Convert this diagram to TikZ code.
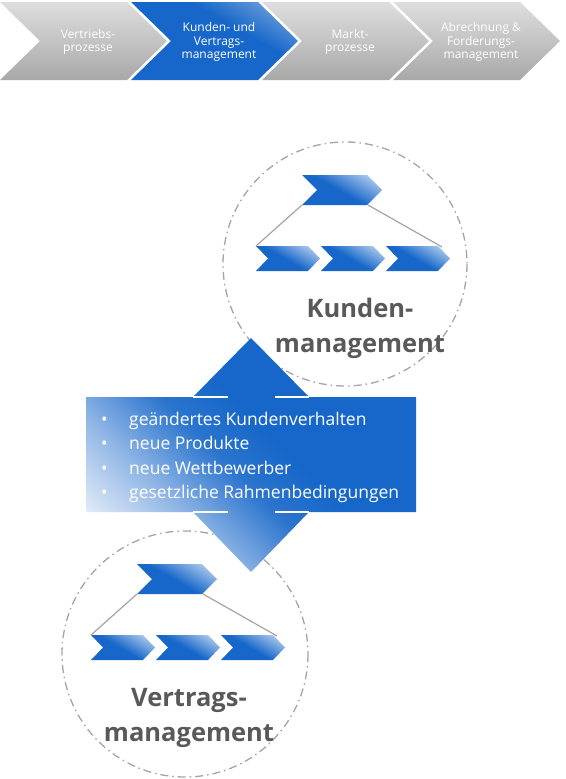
\documentclass[tikz,border=0pt]{standalone}
\usepackage{fontspec}
\setmainfont{Open Sans}
\usetikzlibrary{calc}

\definecolor{mainblue}{RGB}{22,103,201}
\definecolor{paleblue}{RGB}{226,235,248}
\definecolor{chevtop}{RGB}{222,222,222}
\definecolor{chevbottom}{RGB}{168,168,168}
\definecolor{ringgray}{RGB}{165,165,165}
\definecolor{titlegray}{RGB}{89,89,89}

\pgfdeclarehorizontalshading{arrowfade}{100bp}{color(0bp)=(paleblue); color(22bp)=(paleblue); color(34bp)=(mainblue!40!paleblue); color(46bp)=(mainblue!90!paleblue); color(55bp)=(mainblue); color(100bp)=(mainblue)}
\pgfdeclarehorizontalshading{iconfade}{100bp}{color(0bp)=(mainblue); color(48bp)=(mainblue); color(88bp)=(paleblue); color(100bp)=(paleblue)}
\pgfdeclarehorizontalshading{tabfade}{100bp}{color(0bp)=(mainblue); color(60bp)=(mainblue); color(90bp)=(paleblue!70!mainblue); color(100bp)=(paleblue!70!mainblue)}

\tikzset{
	tab/.style={top color=chevtop, bottom color=chevbottom},
	tabblue/.style={shading=tabfade, shading angle=60},
	tablabel/.style={text=white, align=center, inner sep=0pt, font=\fontsize{12}{13.5}\selectfont},
	ring/.style={draw=ringgray, line width=1.3pt, dash pattern=on 8pt off 4pt on 1.5pt off 4pt},
	iconchev/.style={shading=iconfade, shading angle=60},
	iconline/.style={draw=ringgray, line width=1.2pt},
	ringtitle/.style={text=titlegray, align=center, inner sep=0pt, font=\bfseries\fontsize{25.5}{35}\selectfont},
	bulletline/.style={text=white, anchor=base west, inner sep=0pt, font=\fontsize{17.5}{20}\selectfont},
	procicon/.pic={
		\path[iconchev] (0,0) -- (65,0) -- (80,15) -- (65,30) -- (0,30) -- (15,15) -- cycle;
		\coordinate (-tl) at (0,30);
		\coordinate (-tr) at (66,30);
		\foreach \k in {0,1,2} {
			\path[iconchev] ({-46+65*\k},71) -- ++(52,0) -- ++(12,12.5) -- ++(-12,12.5) -- ++(-52,0) -- ++(12,-12.5) -- cycle;
		}
		\coordinate (-bl) at (-46,71);
		\coordinate (-br) at (140,72);
		\draw[iconline] (-tl) -- (-bl);
		\draw[iconline] (-tr) -- (-br);
	}
}

\begin{document}
\begin{tikzpicture}[x=1pt, y=-1pt]
	\useasboundingbox[fill=white] (0,0) rectangle (565,779);

	% process row
	\foreach \i/\sty/\txt in {0/tab/{Vertriebs-\\prozesse}, 1/tabblue/{Kunden- und\\Vertrags-\\management}, 2/tab/{Markt-\\prozesse}, 3/tab/{Abrechnung \&\\Forderungs-\\management}} {
		\path[\sty] ({131*\i},2) -- ++(127,0) -- ++(40,39) -- ++(-40,39) -- ++(-127,0) -- ++(40,-39) -- cycle;
		\node[tablabel] (tab\i) at ({131*\i+88},42) {\txt};
	}

	% the two areas
	\draw[ring] (345,264) circle [radius=122];
	\draw[ring] (185,654) circle [radius=123];
	\pic (kicon) at (302,175) {procicon};
	\pic (vicon) at (137,564) {procicon};
	\node[ringtitle] (ktitle) at (360,328) {Kunden-\\management};
	\node[ringtitle] (vtitle) at (189,718) {Vertrags-\\management};

	% double arrow with drivers
	\path[shading=arrowfade, shading angle=45] (251,338) -- (309,397) -- (416,397) -- (416,512) -- (309,512) -- (251,572) -- (193,512) -- (86,512) -- (86,397) -- (193,397) -- cycle;
	\draw[white, line width=1.2pt] (193,397) -- (228,397) (275,397) -- (309,397) (193,512) -- (228,512) (275,512) -- (309,512);
	\foreach \i/\y/\txt in {1/425/geändertes Kundenverhalten, 2/449.5/neue Produkte, 3/474/neue Wettbewerber, 4/498.5/gesetzliche Rahmenbedingungen}
		\node[bulletline] (item\i) at (101,\y) {\makebox[28pt][l]{\textbullet}\txt};
\end{tikzpicture}
\end{document}
